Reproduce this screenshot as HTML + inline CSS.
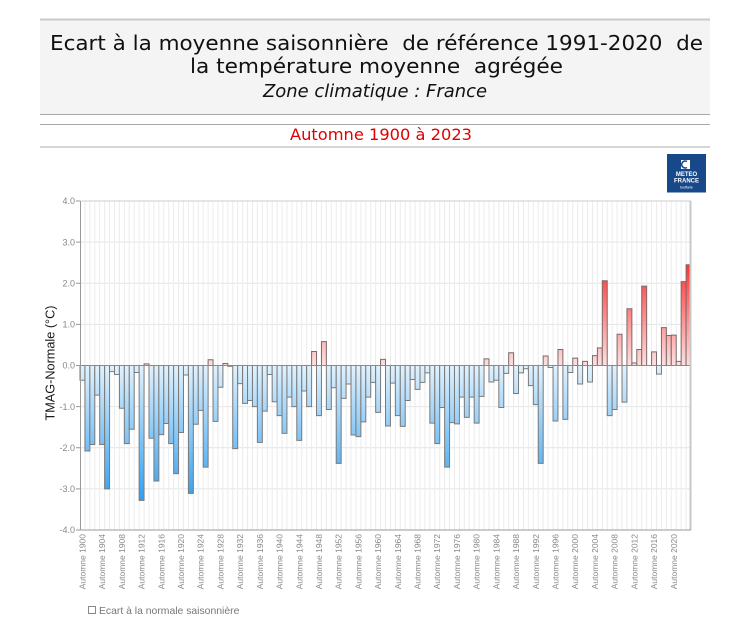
<!DOCTYPE html>
<html><head><meta charset="utf-8"><style>
html,body{margin:0;padding:0;background:#fff;}
svg{display:block;}
.p rect,.p path,.p line{vector-effect:non-scaling-stroke;}
</style></head><body>
<svg width="750" height="637" viewBox="0 0 750 637" xmlns="http://www.w3.org/2000/svg">
<defs>
<linearGradient id="gb" gradientUnits="userSpaceOnUse" x1="0" y1="0" x2="0" y2="-3.4">
<stop offset="0" stop-color="#e2f2fd"/><stop offset="1" stop-color="#2a9cf0"/>
</linearGradient>
<linearGradient id="gr" gradientUnits="userSpaceOnUse" x1="0" y1="0" x2="0" y2="2.5">
<stop offset="0" stop-color="#fde0e0"/><stop offset="1" stop-color="#ff3030"/>
</linearGradient>
</defs>
<rect width="750" height="637" fill="#fff"/>
<!-- header -->
<rect x="40" y="19" width="670" height="95" fill="#f4f4f4"/>
<line x1="40" x2="710" y1="19.5" y2="19.5" stroke="#c8c8c8" stroke-width="2"/>
<line x1="40" x2="710" y1="114.5" y2="114.5" stroke="#a8a8a8" stroke-width="1"/>
<line x1="40" x2="710" y1="124.5" y2="124.5" stroke="#a8a8a8" stroke-width="1"/>
<line x1="40" x2="710" y1="147" y2="147" stroke="#c8c8c8" stroke-width="1.5"/>
<g font-family="'DejaVu Sans','Liberation Sans',sans-serif" fill="#111" text-anchor="middle">
<text x="376.5" y="50" font-size="20" textLength="653" lengthAdjust="spacingAndGlyphs" xml:space="preserve">Ecart à la moyenne saisonnière  de référence 1991-2020  de</text>
<text x="376.5" y="73" font-size="20" textLength="373" lengthAdjust="spacingAndGlyphs" xml:space="preserve">la température moyenne  agrégée</text>
<text x="375" y="97" font-size="17.5" font-style="italic" textLength="224" lengthAdjust="spacingAndGlyphs">Zone climatique : France</text>
<text x="381" y="140" font-size="16" fill="#e00000" textLength="182" lengthAdjust="spacingAndGlyphs">Automne 1900 à 2023</text>
</g>
<!-- logo -->
<rect x="667" y="154" width="39" height="38.5" fill="#17498a"/>
<rect x="681" y="160" width="9" height="9" fill="#fff"/>
<path d="M687 161.5 a3.5 3.5 0 1 0 0 6" fill="none" stroke="#17498a" stroke-width="1.6"/>
<g font-family="'Liberation Sans',sans-serif" font-weight="bold" fill="#fff" text-anchor="middle">
<text x="686.5" y="176" font-size="6">METEO</text>
<text x="686.5" y="182.5" font-size="6">FRANCE</text>
<text x="686.5" y="188.5" font-size="3.5" font-weight="normal">toutfaire</text>
</g>
<!-- horizontal grid -->
<g stroke="#e4e4e4" stroke-width="1">
<line x1="80" x2="691" y1="242.1" y2="242.1"/>
<line x1="80" x2="691" y1="283.25" y2="283.25"/>
<line x1="80" x2="691" y1="324.4" y2="324.4"/>
<line x1="80" x2="691" y1="406.6" y2="406.6"/>
<line x1="80" x2="691" y1="447.75" y2="447.75"/>
<line x1="80" x2="691" y1="488.9" y2="488.9"/>
</g>
<g class="p" transform="translate(80,365.5) scale(4.92742,-41.125)">
<path stroke="#ececec" stroke-width="1" fill="none" d="M1 -4V4M2 -4V4M3 -4V4M4 -4V4M5 -4V4M6 -4V4M7 -4V4M8 -4V4M9 -4V4M10 -4V4M11 -4V4M12 -4V4M13 -4V4M14 -4V4M15 -4V4M16 -4V4M17 -4V4M18 -4V4M19 -4V4M20 -4V4M21 -4V4M22 -4V4M23 -4V4M24 -4V4M25 -4V4M26 -4V4M27 -4V4M28 -4V4M29 -4V4M30 -4V4M31 -4V4M32 -4V4M33 -4V4M34 -4V4M35 -4V4M36 -4V4M37 -4V4M38 -4V4M39 -4V4M40 -4V4M41 -4V4M42 -4V4M43 -4V4M44 -4V4M45 -4V4M46 -4V4M47 -4V4M48 -4V4M49 -4V4M50 -4V4M51 -4V4M52 -4V4M53 -4V4M54 -4V4M55 -4V4M56 -4V4M57 -4V4M58 -4V4M59 -4V4M60 -4V4M61 -4V4M62 -4V4M63 -4V4M64 -4V4M65 -4V4M66 -4V4M67 -4V4M68 -4V4M69 -4V4M70 -4V4M71 -4V4M72 -4V4M73 -4V4M74 -4V4M75 -4V4M76 -4V4M77 -4V4M78 -4V4M79 -4V4M80 -4V4M81 -4V4M82 -4V4M83 -4V4M84 -4V4M85 -4V4M86 -4V4M87 -4V4M88 -4V4M89 -4V4M90 -4V4M91 -4V4M92 -4V4M93 -4V4M94 -4V4M95 -4V4M96 -4V4M97 -4V4M98 -4V4M99 -4V4M100 -4V4M101 -4V4M102 -4V4M103 -4V4M104 -4V4M105 -4V4M106 -4V4M107 -4V4M108 -4V4M109 -4V4M110 -4V4M111 -4V4M112 -4V4M113 -4V4M114 -4V4M115 -4V4M116 -4V4M117 -4V4M118 -4V4M119 -4V4M120 -4V4M121 -4V4M122 -4V4M123 -4V4"/>
<g fill="url(#gb)" stroke="#7a7a7a" stroke-width="1">
<rect x="0" y="-0.36" width="1" height="0.36"/>
<rect x="1" y="-2.08" width="1" height="2.08"/>
<rect x="2" y="-1.92" width="1" height="1.92"/>
<rect x="3" y="-0.72" width="1" height="0.72"/>
<rect x="4" y="-1.92" width="1" height="1.92"/>
<rect x="5" y="-3.00" width="1" height="3.00"/>
<rect x="6" y="-0.15" width="1" height="0.15"/>
<rect x="7" y="-0.22" width="1" height="0.22"/>
<rect x="8" y="-1.04" width="1" height="1.04"/>
<rect x="9" y="-1.90" width="1" height="1.90"/>
<rect x="10" y="-1.55" width="1" height="1.55"/>
<rect x="11" y="-0.17" width="1" height="0.17"/>
<rect x="12" y="-3.28" width="1" height="3.28"/>
<rect x="14" y="-1.77" width="1" height="1.77"/>
<rect x="15" y="-2.81" width="1" height="2.81"/>
<rect x="16" y="-1.68" width="1" height="1.68"/>
<rect x="17" y="-1.41" width="1" height="1.41"/>
<rect x="18" y="-1.90" width="1" height="1.90"/>
<rect x="19" y="-2.63" width="1" height="2.63"/>
<rect x="20" y="-1.63" width="1" height="1.63"/>
<rect x="21" y="-0.23" width="1" height="0.23"/>
<rect x="22" y="-3.11" width="1" height="3.11"/>
<rect x="23" y="-1.43" width="1" height="1.43"/>
<rect x="24" y="-1.09" width="1" height="1.09"/>
<rect x="25" y="-2.47" width="1" height="2.47"/>
<rect x="27" y="-1.36" width="1" height="1.36"/>
<rect x="28" y="-0.53" width="1" height="0.53"/>
<rect x="30" y="-0.02" width="1" height="0.02"/>
<rect x="31" y="-2.02" width="1" height="2.02"/>
<rect x="32" y="-0.44" width="1" height="0.44"/>
<rect x="33" y="-0.92" width="1" height="0.92"/>
<rect x="34" y="-0.85" width="1" height="0.85"/>
<rect x="35" y="-1.00" width="1" height="1.00"/>
<rect x="36" y="-1.87" width="1" height="1.87"/>
<rect x="37" y="-1.11" width="1" height="1.11"/>
<rect x="38" y="-0.22" width="1" height="0.22"/>
<rect x="39" y="-0.88" width="1" height="0.88"/>
<rect x="40" y="-1.22" width="1" height="1.22"/>
<rect x="41" y="-1.65" width="1" height="1.65"/>
<rect x="42" y="-0.77" width="1" height="0.77"/>
<rect x="43" y="-1.00" width="1" height="1.00"/>
<rect x="44" y="-1.82" width="1" height="1.82"/>
<rect x="45" y="-0.62" width="1" height="0.62"/>
<rect x="46" y="-1.00" width="1" height="1.00"/>
<rect x="48" y="-1.22" width="1" height="1.22"/>
<rect x="50" y="-1.07" width="1" height="1.07"/>
<rect x="51" y="-0.54" width="1" height="0.54"/>
<rect x="52" y="-2.38" width="1" height="2.38"/>
<rect x="53" y="-0.80" width="1" height="0.80"/>
<rect x="54" y="-0.45" width="1" height="0.45"/>
<rect x="55" y="-1.69" width="1" height="1.69"/>
<rect x="56" y="-1.73" width="1" height="1.73"/>
<rect x="57" y="-1.37" width="1" height="1.37"/>
<rect x="58" y="-0.77" width="1" height="0.77"/>
<rect x="59" y="-0.41" width="1" height="0.41"/>
<rect x="60" y="-1.14" width="1" height="1.14"/>
<rect x="62" y="-1.47" width="1" height="1.47"/>
<rect x="63" y="-0.43" width="1" height="0.43"/>
<rect x="64" y="-1.22" width="1" height="1.22"/>
<rect x="65" y="-1.48" width="1" height="1.48"/>
<rect x="66" y="-0.85" width="1" height="0.85"/>
<rect x="67" y="-0.34" width="1" height="0.34"/>
<rect x="68" y="-0.58" width="1" height="0.58"/>
<rect x="69" y="-0.41" width="1" height="0.41"/>
<rect x="70" y="-0.18" width="1" height="0.18"/>
<rect x="71" y="-1.40" width="1" height="1.40"/>
<rect x="72" y="-1.90" width="1" height="1.90"/>
<rect x="73" y="-1.02" width="1" height="1.02"/>
<rect x="74" y="-2.47" width="1" height="2.47"/>
<rect x="75" y="-1.39" width="1" height="1.39"/>
<rect x="76" y="-1.42" width="1" height="1.42"/>
<rect x="77" y="-0.77" width="1" height="0.77"/>
<rect x="78" y="-1.26" width="1" height="1.26"/>
<rect x="79" y="-0.77" width="1" height="0.77"/>
<rect x="80" y="-1.40" width="1" height="1.40"/>
<rect x="81" y="-0.75" width="1" height="0.75"/>
<rect x="83" y="-0.40" width="1" height="0.40"/>
<rect x="84" y="-0.36" width="1" height="0.36"/>
<rect x="85" y="-1.02" width="1" height="1.02"/>
<rect x="86" y="-0.19" width="1" height="0.19"/>
<rect x="88" y="-0.68" width="1" height="0.68"/>
<rect x="89" y="-0.18" width="1" height="0.18"/>
<rect x="90" y="-0.08" width="1" height="0.08"/>
<rect x="91" y="-0.49" width="1" height="0.49"/>
<rect x="92" y="-0.95" width="1" height="0.95"/>
<rect x="93" y="-2.38" width="1" height="2.38"/>
<rect x="95" y="-0.05" width="1" height="0.05"/>
<rect x="96" y="-1.35" width="1" height="1.35"/>
<rect x="98" y="-1.31" width="1" height="1.31"/>
<rect x="99" y="-0.17" width="1" height="0.17"/>
<rect x="101" y="-0.45" width="1" height="0.45"/>
<rect x="103" y="-0.40" width="1" height="0.40"/>
<rect x="107" y="-1.22" width="1" height="1.22"/>
<rect x="108" y="-1.07" width="1" height="1.07"/>
<rect x="110" y="-0.89" width="1" height="0.89"/>
<rect x="117" y="-0.21" width="1" height="0.21"/>
</g>
<g fill="url(#gr)" stroke="#7a6a6a" stroke-width="1">
<rect x="13" y="0" width="1" height="0.04"/>
<rect x="26" y="0" width="1" height="0.14"/>
<rect x="29" y="0" width="1" height="0.05"/>
<rect x="47" y="0" width="1" height="0.34"/>
<rect x="49" y="0" width="1" height="0.58"/>
<rect x="61" y="0" width="1" height="0.15"/>
<rect x="82" y="0" width="1" height="0.16"/>
<rect x="87" y="0" width="1" height="0.31"/>
<rect x="94" y="0" width="1" height="0.23"/>
<rect x="97" y="0" width="1" height="0.39"/>
<rect x="100" y="0" width="1" height="0.18"/>
<rect x="102" y="0" width="1" height="0.10"/>
<rect x="104" y="0" width="1" height="0.24"/>
<rect x="105" y="0" width="1" height="0.43"/>
<rect x="106" y="0" width="1" height="2.06"/>
<rect x="109" y="0" width="1" height="0.76"/>
<rect x="111" y="0" width="1" height="1.38"/>
<rect x="112" y="0" width="1" height="0.06"/>
<rect x="113" y="0" width="1" height="0.39"/>
<rect x="114" y="0" width="1" height="1.93"/>
<rect x="116" y="0" width="1" height="0.33"/>
<rect x="118" y="0" width="1" height="0.92"/>
<rect x="119" y="0" width="1" height="0.73"/>
<rect x="120" y="0" width="1" height="0.74"/>
<rect x="121" y="0" width="1" height="0.10"/>
<rect x="122" y="0" width="1" height="2.04"/>
<rect x="123" y="0" width="1" height="2.45"/>
</g>
<line x1="0" x2="124" y1="0" y2="0" stroke="#8a8a8a" stroke-width="1"/>
</g>
<!-- frame / axes -->
<line x1="80" x2="691" y1="201" y2="201" stroke="#cccccc" stroke-width="1"/>
<line x1="690.5" x2="690.5" y1="201" y2="530" stroke="#c8c8c8" stroke-width="2"/>
<line x1="80.5" x2="80.5" y1="201" y2="530.5" stroke="#999" stroke-width="1"/>
<line x1="80" x2="691" y1="530" y2="530" stroke="#999" stroke-width="1"/>
<g stroke="#999" stroke-width="1">
<line x1="76" x2="80" y1="201" y2="201"/>
<line x1="76" x2="80" y1="242.1" y2="242.1"/>
<line x1="76" x2="80" y1="283.25" y2="283.25"/>
<line x1="76" x2="80" y1="324.4" y2="324.4"/>
<line x1="76" x2="80" y1="365.5" y2="365.5"/>
<line x1="76" x2="80" y1="406.6" y2="406.6"/>
<line x1="76" x2="80" y1="447.75" y2="447.75"/>
<line x1="76" x2="80" y1="488.9" y2="488.9"/>
<line x1="76" x2="80" y1="530" y2="530"/>
</g>
<g font-family="'Liberation Sans',sans-serif" font-size="9" fill="#888" text-anchor="end">
<text x="75" y="204.2">4.0</text>
<text x="75" y="245.3">3.0</text>
<text x="75" y="286.4">2.0</text>
<text x="75" y="327.6">1.0</text>
<text x="75" y="368.7">0.0</text>
<text x="75" y="409.8">-1.0</text>
<text x="75" y="450.9">-2.0</text>
<text x="75" y="492.1">-3.0</text>
<text x="75" y="533.2">-4.0</text>
</g>
<text transform="translate(54.5,363) rotate(-90)" text-anchor="middle" font-family="'Liberation Sans',sans-serif" font-size="12.7" fill="#1a1a1a">TMAG-Normale (°C)</text>
<g font-family="'Liberation Sans',sans-serif" font-size="8.5" fill="#888" text-anchor="end">
<text transform="translate(85.5,534) rotate(-90)">Automne 1900</text>
<text transform="translate(105.2,534) rotate(-90)">Automne 1904</text>
<text transform="translate(124.9,534) rotate(-90)">Automne 1908</text>
<text transform="translate(144.6,534) rotate(-90)">Automne 1912</text>
<text transform="translate(164.3,534) rotate(-90)">Automne 1916</text>
<text transform="translate(184.0,534) rotate(-90)">Automne 1920</text>
<text transform="translate(203.7,534) rotate(-90)">Automne 1924</text>
<text transform="translate(223.4,534) rotate(-90)">Automne 1928</text>
<text transform="translate(243.1,534) rotate(-90)">Automne 1932</text>
<text transform="translate(262.9,534) rotate(-90)">Automne 1936</text>
<text transform="translate(282.6,534) rotate(-90)">Automne 1940</text>
<text transform="translate(302.3,534) rotate(-90)">Automne 1944</text>
<text transform="translate(322.0,534) rotate(-90)">Automne 1948</text>
<text transform="translate(341.7,534) rotate(-90)">Automne 1952</text>
<text transform="translate(361.4,534) rotate(-90)">Automne 1956</text>
<text transform="translate(381.1,534) rotate(-90)">Automne 1960</text>
<text transform="translate(400.8,534) rotate(-90)">Automne 1964</text>
<text transform="translate(420.5,534) rotate(-90)">Automne 1968</text>
<text transform="translate(440.2,534) rotate(-90)">Automne 1972</text>
<text transform="translate(460.0,534) rotate(-90)">Automne 1976</text>
<text transform="translate(479.7,534) rotate(-90)">Automne 1980</text>
<text transform="translate(499.4,534) rotate(-90)">Automne 1984</text>
<text transform="translate(519.1,534) rotate(-90)">Automne 1988</text>
<text transform="translate(538.8,534) rotate(-90)">Automne 1992</text>
<text transform="translate(558.5,534) rotate(-90)">Automne 1996</text>
<text transform="translate(578.2,534) rotate(-90)">Automne 2000</text>
<text transform="translate(597.9,534) rotate(-90)">Automne 2004</text>
<text transform="translate(617.6,534) rotate(-90)">Automne 2008</text>
<text transform="translate(637.3,534) rotate(-90)">Automne 2012</text>
<text transform="translate(657.1,534) rotate(-90)">Automne 2016</text>
<text transform="translate(676.8,534) rotate(-90)">Automne 2020</text>
</g>
<!-- legend -->
<rect x="88.5" y="606.5" width="7" height="7" fill="#fff" stroke="#888" stroke-width="1"/>
<text x="99" y="614" font-family="'Liberation Sans',sans-serif" font-size="10.4" fill="#777">Ecart à la normale saisonnière</text>
</svg>
</body></html>
